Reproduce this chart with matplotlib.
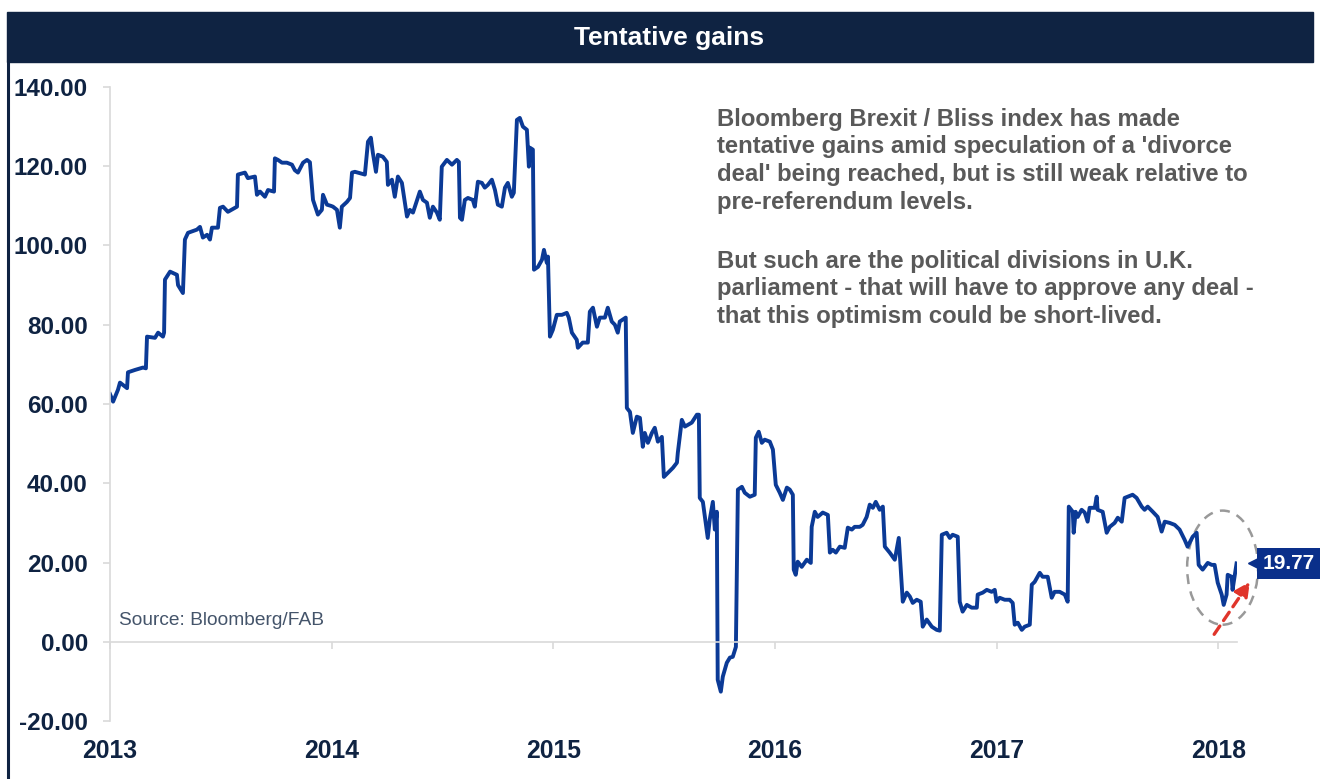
import numpy as np
import matplotlib
matplotlib.use("Agg")
import matplotlib.pyplot as plt
import matplotlib.transforms as mtransforms
from matplotlib.patches import Ellipse, Rectangle
from matplotlib.lines import Line2D

# ============================================================
# Data: Bloomberg Brexit / Bliss index
# ============================================================

# decimal years
dates = [
    2013.000, 2013.014, 2013.036, 2013.045, 2013.077, 2013.081, 2013.113, 2013.149, 2013.162,
    2013.167, 2013.203, 2013.217, 2013.239, 2013.244, 2013.248, 2013.271, 2013.302, 2013.307,
    2013.329, 2013.338, 2013.352, 2013.392, 2013.406, 2013.419, 2013.438, 2013.451, 2013.460,
    2013.487, 2013.496, 2013.510, 2013.532, 2013.573, 2013.577, 2013.609, 2013.622, 2013.654,
    2013.663, 2013.677, 2013.699, 2013.713, 2013.740, 2013.744, 2013.758, 2013.776, 2013.798,
    2013.821, 2013.834, 2013.848, 2013.871, 2013.889, 2013.902, 2013.916, 2013.938, 2013.956,
    2013.961, 2013.979, 2013.997,
    2014.006, 2014.024, 2014.037, 2014.046, 2014.069, 2014.083, 2014.092, 2014.105, 2014.150,
    2014.164, 2014.177, 2014.186, 2014.200, 2014.209, 2014.231, 2014.249, 2014.254, 2014.272,
    2014.285, 2014.299, 2014.317, 2014.340, 2014.353, 2014.367, 2014.398, 2014.412, 2014.430,
    2014.443, 2014.457, 2014.475, 2014.488, 2014.497, 2014.520, 2014.543, 2014.565, 2014.574,
    2014.579, 2014.588, 2014.601, 2014.615, 2014.637, 2014.646, 2014.660, 2014.678, 2014.691,
    2014.705, 2014.723, 2014.737, 2014.750, 2014.768, 2014.782, 2014.795, 2014.813, 2014.822,
    2014.836, 2014.849, 2014.863, 2014.881, 2014.890, 2014.894, 2014.908, 2014.913, 2014.931,
    2014.949, 2014.958, 2014.971, 2014.976, 2014.985, 2014.998,
    2015.016, 2015.039, 2015.061, 2015.070, 2015.084, 2015.106, 2015.111, 2015.133, 2015.156,
    2015.165, 2015.179, 2015.197, 2015.210, 2015.233, 2015.246, 2015.264, 2015.278, 2015.291,
    2015.300, 2015.327, 2015.332, 2015.346, 2015.359, 2015.377, 2015.391, 2015.404, 2015.413,
    2015.427, 2015.445, 2015.458, 2015.472, 2015.490, 2015.499, 2015.517, 2015.540, 2015.558,
    2015.562, 2015.580, 2015.594, 2015.625, 2015.648, 2015.657, 2015.661, 2015.675, 2015.697,
    2015.706, 2015.720, 2015.729, 2015.738, 2015.742, 2015.756, 2015.765, 2015.783, 2015.797,
    2015.810, 2015.824, 2015.833, 2015.851, 2015.864, 2015.887, 2015.909, 2015.914, 2015.927,
    2015.941, 2015.954, 2015.977, 2015.991,
    2016.004, 2016.022, 2016.036, 2016.054, 2016.067, 2016.081, 2016.085, 2016.094, 2016.103,
    2016.121, 2016.144, 2016.162, 2016.166, 2016.180, 2016.193, 2016.216, 2016.239, 2016.248,
    2016.261, 2016.275, 2016.293, 2016.315, 2016.329, 2016.347, 2016.360, 2016.383, 2016.396,
    2016.414, 2016.428, 2016.442, 2016.455, 2016.473, 2016.487, 2016.496, 2016.518, 2016.541,
    2016.559, 2016.577, 2016.595, 2016.609, 2016.622, 2016.640, 2016.658, 2016.667, 2016.685,
    2016.708, 2016.730, 2016.744, 2016.753, 2016.775, 2016.789, 2016.802, 2016.825, 2016.834,
    2016.847, 2016.866, 2016.888, 2016.911, 2016.915, 2016.938, 2016.956, 2016.978, 2016.992,
    2017.000, 2017.014, 2017.037, 2017.059, 2017.073, 2017.082, 2017.096, 2017.114, 2017.127,
    2017.150, 2017.159, 2017.172, 2017.195, 2017.208, 2017.231, 2017.249, 2017.262, 2017.285,
    2017.308, 2017.321, 2017.326, 2017.344, 2017.348, 2017.357, 2017.366, 2017.384, 2017.398,
    2017.411, 2017.420, 2017.443, 2017.452, 2017.456, 2017.479, 2017.497, 2017.511, 2017.533,
    2017.547, 2017.565, 2017.578, 2017.592, 2017.614, 2017.632, 2017.655, 2017.668, 2017.682,
    2017.705, 2017.727, 2017.745, 2017.759, 2017.781, 2017.804, 2017.826, 2017.849, 2017.862,
    2017.885, 2017.903, 2017.912, 2017.930, 2017.953, 2017.971, 2017.984, 2017.998,
    2018.016, 2018.025, 2018.038, 2018.043, 2018.061, 2018.065, 2018.083,
]

index_values = [
    62.5, 60.6, 63.6, 65.4, 64.0, 68.0, 68.6, 69.2, 69.0,
    77.0, 76.7, 78.0, 77.0, 78.0, 91.4, 93.4, 92.6, 90.0,
    88.0, 101.5, 103.2, 104.0, 104.7, 102.0, 102.7, 101.5, 104.5,
    104.5, 109.5, 109.8, 108.5, 109.8, 117.9, 118.4, 117.0, 117.4,
    112.8, 113.6, 112.3, 114.0, 113.6, 122.0, 121.6, 120.9, 120.9,
    120.4, 119.0, 118.4, 120.9, 121.6, 121.0, 111.5, 107.8, 109.0,
    112.8, 110.3, 110.0,
    109.8, 109.0, 104.5, 109.8, 111.0, 112.0, 118.4, 118.6, 117.9,
    126.2, 127.2, 123.4, 118.6, 122.9, 122.4, 121.1, 115.3, 116.6,
    112.3, 117.4, 115.8, 107.3, 109.0, 108.3, 113.6, 111.5, 110.8,
    107.0, 109.8, 108.3, 106.5, 119.9, 121.6, 120.4, 121.6, 121.1,
    107.0, 106.5, 111.5, 112.0, 111.5, 109.8, 116.1, 115.8, 114.6,
    115.3, 116.6, 114.0, 110.3, 109.8, 114.6, 115.8, 112.3, 113.3,
    131.7, 132.2, 130.0, 129.2, 119.9, 124.7, 124.2, 93.9, 94.6,
    96.4, 98.9, 95.6, 97.2, 77.0, 78.7,
    82.5, 82.5, 83.0, 81.8, 78.0, 76.2, 74.2, 75.5, 75.5,
    83.3, 84.3, 79.5, 81.8, 81.8, 84.3, 80.8, 80.0, 78.0,
    80.8, 81.8, 59.0, 58.0, 52.7, 56.8, 56.5, 49.2, 52.7,
    50.2, 52.7, 54.0, 50.5, 51.7, 41.6, 42.6, 43.9, 45.2,
    47.7, 56.0, 54.3, 55.3, 57.3, 57.3, 36.3, 35.3, 26.2,
    30.8, 35.3, 28.3, 32.8, -9.6, -12.6, -8.8, -5.3, -4.0,
    -3.8, -1.3, 38.4, 39.1, 37.6, 36.6, 37.1, 51.5, 53.0,
    50.2, 51.0, 50.5, 48.5,
    39.6, 37.6, 35.8, 38.9, 38.4, 37.1, 18.2, 16.9, 20.2,
    18.9, 20.7, 19.9, 29.0, 32.8, 31.5, 32.6, 32.0, 22.5,
    23.2, 22.5, 24.0, 23.7, 28.8, 28.3, 29.0, 29.0, 29.5,
    31.5, 34.6, 33.8, 35.3, 33.3, 34.1, 24.0, 22.5, 20.7,
    26.2, 10.1, 12.4, 11.4, 9.8, 10.6, 10.1, 3.8, 5.6,
    3.8, 3.0, 2.8, 27.0, 27.5, 26.2, 27.0, 26.5, 10.1,
    7.6, 9.3, 8.6, 8.6, 11.9, 12.4, 13.1, 12.6, 13.1,
    10.1, 11.1, 10.6, 10.6, 9.8, 4.3, 4.8, 3.0, 3.8,
    4.3, 14.4, 15.1, 17.4, 16.4, 16.4, 11.1, 12.6, 12.6,
    11.9, 10.1, 34.1, 32.8, 27.5, 32.8, 31.5, 33.3, 32.6,
    30.3, 33.8, 33.8, 36.6, 33.3, 32.8, 27.5, 29.0, 30.0,
    31.3, 30.3, 36.3, 36.6, 37.1, 36.3, 34.1, 33.3, 34.1,
    32.8, 31.5, 27.8, 30.3, 30.0, 29.5, 28.3, 25.7, 24.0,
    26.5, 27.5, 19.4, 18.2, 19.9, 19.4, 19.4, 14.9,
    11.9, 9.3, 11.9, 16.9, 16.4, 13.1, 19.77,
]

year_ticks = [2013, 2014, 2015, 2016, 2017, 2018]
value_ticks = [-20, 0, 20, 40, 60, 80, 100, 120, 140]

title = "Tentative gains"
note_1 = ("Bloomberg Brexit / Bliss index has made\n"
          "tentative gains amid speculation of a 'divorce\n"
          "deal' being reached, but is still weak relative to\n"
          "pre-referendum levels.")
note_2 = ("But such are the political divisions in U.K.\n"
          "parliament - that will have to approve any deal -\n"
          "that this optimism could be short-lived.")

# ============================================================
# Figure
# ============================================================

navy = "#0f2342"
line_blue = "#0b3a96"
grid_gray = "#d9d9d9"

W, H = 1320, 779
fig = plt.figure(figsize=(W / 100, H / 100), dpi=100)
plt.rcParams["font.family"] = ["Liberation Sans", "DejaVu Sans"]

# title bar and left frame line
fig.patches.append(Rectangle((7 / W, 1 - 62 / H), 1306 / W, 50 / H,
                             transform=fig.transFigure, color=navy, zorder=0))
fig.lines.append(Line2D([8 / W, 8 / W], [0, 1 - 62 / H], transform=fig.transFigure,
                        color=navy, lw=2.2))
fig.text(669 / W, 1 - 38 / H, title, color="white", fontsize=19, fontweight="bold",
         ha="center", va="center")

ax = fig.add_axes([110 / W, 58 / H, 1127 / W, 634 / H])
ax.plot(dates, index_values, color=line_blue, linewidth=2.8, solid_joinstyle="round")

ax.set_xlim(2013.0, 2018.085)
ax.set_ylim(-20, 140)
ax.set_yticks(value_ticks)
ax.set_yticklabels([f"{v:.2f}" for v in value_ticks])
ax.set_xticks(year_ticks)
ax.set_xticklabels([str(y) for y in year_ticks])

for side in ["top", "right"]:
    ax.spines[side].set_visible(False)
ax.spines["left"].set_color(grid_gray)
ax.spines["bottom"].set_color(grid_gray)
ax.spines["bottom"].set_position(("data", 0))
ax.spines["left"].set_linewidth(1.2)
ax.spines["bottom"].set_linewidth(1.2)

ax.tick_params(axis="y", length=5, color=grid_gray, width=1.2, pad=11,
               labelsize=17.5, labelcolor=navy)
ax.tick_params(axis="x", length=5, color=grid_gray, width=1.2, pad=65,
               labelsize=17.8, labelcolor=navy)
for lbl in ax.get_xticklabels() + ax.get_yticklabels():
    lbl.set_fontweight("bold")

# source
ax.text(0.008, 0.158, "Source: Bloomberg/FAB", transform=ax.transAxes,
        fontsize=13.8, color="#44546a", va="center", ha="left")

# commentary
fig.text(717 / W, 1 - 108 / H, note_1, fontsize=17.2, fontweight="bold",
         color="#595959", ha="left", va="top", linespacing=1.25)
fig.text(717 / W, 1 - 250 / H, note_2, fontsize=17.2, fontweight="bold",
         color="#595959", ha="left", va="top", linespacing=1.25)

# highlight around the latest move
ax.add_patch(Ellipse((2018.02, 18.7), 0.32, 28.8, fill=False, edgecolor="#999999",
                     linestyle=(0, (4, 3)), linewidth=1.8, clip_on=False))
ax.annotate("", xy=(2018.15, 15.7), xytext=(2017.975, 1.3), annotation_clip=False,
            arrowprops=dict(arrowstyle="-|>", color="#e0352b", lw=2.4,
                            linestyle=(0, (3, 2)), mutation_scale=22))

# last value label
last_t, last_v = dates[-1], index_values[-1]
ax.annotate(f"{last_v:.2f}", xy=(last_t, last_v), xytext=(19, 0),
            textcoords="offset points", ha="left", va="center", fontsize=15,
            fontweight="bold", color="white", annotation_clip=False,
            bbox=dict(boxstyle="square,pad=0.28", fc="#0a2f8a", ec="none"))
tri = mtransforms.offset_copy(ax.transData, fig=fig, x=18, y=0, units="dots")
ax.plot([last_t], [last_v], marker="<", markersize=10, color="#0a2f8a",
        transform=tri, clip_on=False)

plt.savefig("out.png", dpi=100)
